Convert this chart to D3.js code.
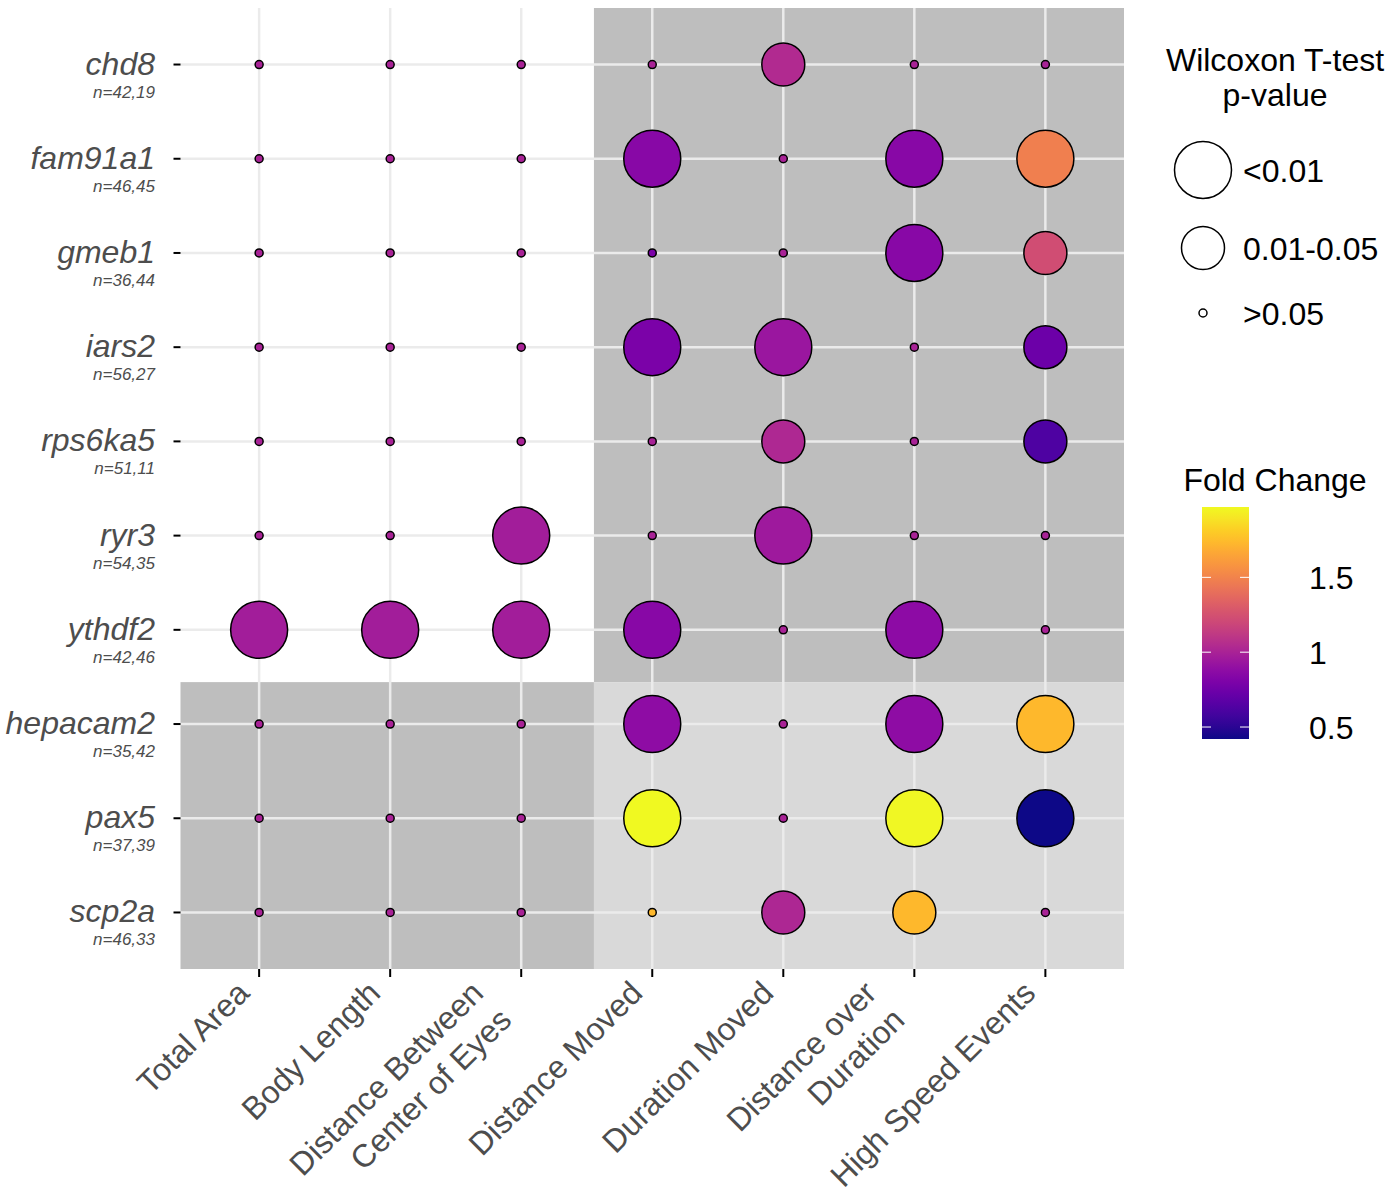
<!DOCTYPE html>
<html lang="en">
<head>
    <meta charset="UTF-8">
    <title>Wilcoxon Dot Plot</title>
    <script src="https://d3js.org/d3.v7.min.js"></script>
    <style>
        body { margin: 0; background: #fff; }
        text { font-family: "Liberation Sans", Arial, Helvetica, sans-serif; }
    </style>
</head>
<body>
    <div id="chart"></div>
    <script>
        // genes (rows, top to bottom) and sample sizes
        const genes = ["chd8", "fam91a1", "gmeb1", "iars2", "rps6ka5", "ryr3", "ythdf2", "hepacam2", "pax5", "scp2a"];
        const nLabels = ["n=42,19", "n=46,45", "n=36,44", "n=56,27", "n=51,11", "n=54,35", "n=42,46", "n=35,42", "n=37,39", "n=46,33"];

        // measures (columns)
        const measures = ["Total Area", "Body Length", "Distance Between\nCenter of Eyes", "Distance Moved",
            "Duration Moved", "Distance over\nDuration", "High Speed Events"];

        // p-value class per gene x measure: L = <0.01, M = 0.01-0.05, S = >0.05
        const pClass = [
            ["S", "S", "S", "S", "M", "S", "S"],
            ["S", "S", "S", "L", "S", "L", "L"],
            ["S", "S", "S", "S", "S", "L", "M"],
            ["S", "S", "S", "L", "L", "S", "M"],
            ["S", "S", "S", "S", "M", "S", "M"],
            ["S", "S", "L", "S", "L", "S", "S"],
            ["L", "L", "L", "L", "S", "L", "S"],
            ["S", "S", "S", "L", "S", "L", "L"],
            ["S", "S", "S", "L", "S", "L", "L"],
            ["S", "S", "S", "S", "M", "M", "S"]
        ];

        // fold change per gene x measure
        const foldChange = [
            [1.00, 1.00, 1.00, 1.00, 1.04, 1.00, 1.00],
            [1.00, 1.00, 1.00, 0.85, 1.00, 0.85, 1.48],
            [1.00, 1.00, 1.00, 0.80, 1.00, 0.85, 1.23],
            [1.00, 1.00, 1.00, 0.80, 0.93, 1.00, 0.74],
            [1.00, 1.00, 1.00, 1.00, 1.03, 1.00, 0.62],
            [1.00, 1.00, 0.97, 1.00, 0.95, 1.00, 1.00],
            [0.97, 0.97, 0.97, 0.85, 1.00, 0.87, 1.00],
            [1.00, 1.00, 1.00, 0.88, 1.00, 0.88, 1.73],
            [1.00, 1.00, 1.00, 1.97, 1.00, 1.96, 0.42],
            [1.00, 1.00, 1.00, 1.73, 1.02, 1.73, 1.00]
        ];

        const pLevels = ["L", "M", "S"];
        const pLegendLabels = ["<0.01", "0.01-0.05", ">0.05"];
        const fcTicks = [0.5, 1, 1.5];

        // flatten into points
        const points = [];
        genes.forEach((g, i) => {
            measures.forEach((m, j) => {
                points.push({ gene: g, measure: m, p: pClass[i][j], fc: foldChange[i][j] });
            });
        });

        const width = 1391, height = 1193;
        const panel = { left: 180.5, right: 1124, top: 8, bottom: 969 };

        const svg = d3.select("#chart").append("svg")
            .attr("width", width)
            .attr("height", height);

        const x = d3.scalePoint().domain(measures).range([panel.left, panel.right]).padding(0.6);
        const y = d3.scalePoint().domain(genes).range([panel.top, panel.bottom]).padding(0.6);
        const size = d3.scaleOrdinal().domain(pLevels).range([28.5, 21.5, 4]);
        const fcExtent = d3.extent(points, d => d.fc);
        const color = d3.scaleSequential(d3.interpolatePlasma).domain(fcExtent);

        // shaded blocks (split between morphology / behaviour and gene groups)
        const colSplit = x(measures[0]) + 2.555 * x.step();
        const rowSplit = y(genes[0]) + 6.555 * y.step();
        const blocks = [
            { x0: colSplit, x1: panel.right, y0: panel.top, y1: rowSplit, fill: "#bebebe" },
            { x0: panel.left, x1: colSplit, y0: rowSplit, y1: panel.bottom, fill: "#bebebe" },
            { x0: colSplit, x1: panel.right, y0: rowSplit, y1: panel.bottom, fill: "#d9d9d9" }
        ];
        svg.append("g").selectAll("rect")
            .data(blocks)
            .enter().append("rect")
            .attr("x", d => d.x0).attr("y", d => d.y0)
            .attr("width", d => d.x1 - d.x0).attr("height", d => d.y1 - d.y0)
            .attr("fill", d => d.fill);

        // grid lines
        const grid = svg.append("g").attr("stroke", "#ebebeb").attr("stroke-width", 2.5);
        grid.selectAll(".vx").data(measures).enter().append("line")
            .attr("x1", d => x(d)).attr("x2", d => x(d))
            .attr("y1", panel.top).attr("y2", panel.bottom);
        grid.selectAll(".hy").data(genes).enter().append("line")
            .attr("x1", panel.left).attr("x2", panel.right)
            .attr("y1", d => y(d)).attr("y2", d => y(d));

        // bubbles
        svg.append("g").selectAll("circle")
            .data(points)
            .enter().append("circle")
            .attr("cx", d => x(d.measure))
            .attr("cy", d => y(d.gene))
            .attr("r", d => size(d.p))
            .attr("fill", d => color(d.fc))
            .attr("stroke", "#000")
            .attr("stroke-width", 1.5);

        // y axis: ticks + two-line labels
        const yAxis = svg.append("g");
        yAxis.selectAll("line").data(genes).enter().append("line")
            .attr("x1", panel.left - 7).attr("x2", panel.left)
            .attr("y1", d => y(d)).attr("y2", d => y(d))
            .attr("stroke", "#000").attr("stroke-width", 2);
        yAxis.selectAll(".gene").data(genes).enter().append("text")
            .attr("x", 155).attr("y", d => y(d) + 10)
            .attr("text-anchor", "end")
            .attr("font-size", 32).attr("font-style", "italic")
            .attr("fill", "#4d4d4d")
            .text(d => d);
        yAxis.selectAll(".n").data(genes).enter().append("text")
            .attr("x", 155).attr("y", d => y(d) + 33)
            .attr("text-anchor", "end")
            .attr("font-size", 17).attr("font-style", "italic")
            .attr("fill", "#4d4d4d")
            .text((d, i) => nLabels[i]);

        // x axis: ticks + rotated labels
        const xAxis = svg.append("g");
        xAxis.selectAll("line").data(measures).enter().append("line")
            .attr("x1", d => x(d)).attr("x2", d => x(d))
            .attr("y1", panel.bottom).attr("y2", panel.bottom + 8)
            .attr("stroke", "#000").attr("stroke-width", 2);
        measures.forEach(m => {
            const lines = m.split("\n");
            lines.forEach((ln, k) => {
                const back = (lines.length - 1) * 28;
                const ax = x(m) - 8 - back + k * 28;
                const ay = 995 + k * 27;
                xAxis.append("text")
                    .attr("transform", `translate(${ax},${ay}) rotate(-45)`)
                    .attr("text-anchor", "end")
                    .attr("font-size", 32)
                    .attr("fill", "#4d4d4d")
                    .text(ln);
            });
        });

        // size legend
        const sizeLeg = svg.append("g");
        sizeLeg.append("text").attr("x", 1275).attr("y", 71)
            .attr("text-anchor", "middle").attr("font-size", 32).text("Wilcoxon T-test");
        sizeLeg.append("text").attr("x", 1275).attr("y", 106)
            .attr("text-anchor", "middle").attr("font-size", 32).text("p-value");
        const legY = [170, 248, 313];
        pLevels.forEach((p, i) => {
            sizeLeg.append("circle")
                .attr("cx", 1203).attr("cy", legY[i]).attr("r", size(p))
                .attr("fill", "none").attr("stroke", "#000").attr("stroke-width", 1.5);
            sizeLeg.append("text")
                .attr("x", 1243).attr("y", legY[i])
                .attr("dy", "0.36em")
                .attr("font-size", 32)
                .text(pLegendLabels[i]);
        });

        // colour bar
        const bar = { x: 1202, w: 47, top: 507, bottom: 739 };
        const barScale = d3.scaleLinear().domain(fcExtent).range([bar.bottom, bar.top]);
        const defs = svg.append("defs");
        const grad = defs.append("linearGradient").attr("id", "fcGrad")
            .attr("x1", 0).attr("y1", 1).attr("x2", 0).attr("y2", 0);
        d3.range(0, 1.0001, 0.05).forEach(t => {
            grad.append("stop").attr("offset", t).attr("stop-color", d3.interpolatePlasma(t));
        });
        const cbar = svg.append("g");
        cbar.append("text").attr("x", 1275).attr("y", 491)
            .attr("text-anchor", "middle").attr("font-size", 32).text("Fold Change");
        cbar.append("rect")
            .attr("x", bar.x).attr("y", bar.top)
            .attr("width", bar.w).attr("height", bar.bottom - bar.top)
            .attr("fill", "url(#fcGrad)");
        fcTicks.forEach(v => {
            const ty = barScale(v);
            cbar.append("line").attr("x1", bar.x).attr("x2", bar.x + 9)
                .attr("y1", ty).attr("y2", ty).attr("stroke", "#fff").attr("stroke-width", 1);
            cbar.append("line").attr("x1", bar.x + bar.w - 9).attr("x2", bar.x + bar.w)
                .attr("y1", ty).attr("y2", ty).attr("stroke", "#fff").attr("stroke-width", 1);
            cbar.append("text").attr("x", 1309).attr("y", ty)
                .attr("dy", "0.36em").attr("font-size", 32)
                .text(v);
        });
    </script>
</body>
</html>
